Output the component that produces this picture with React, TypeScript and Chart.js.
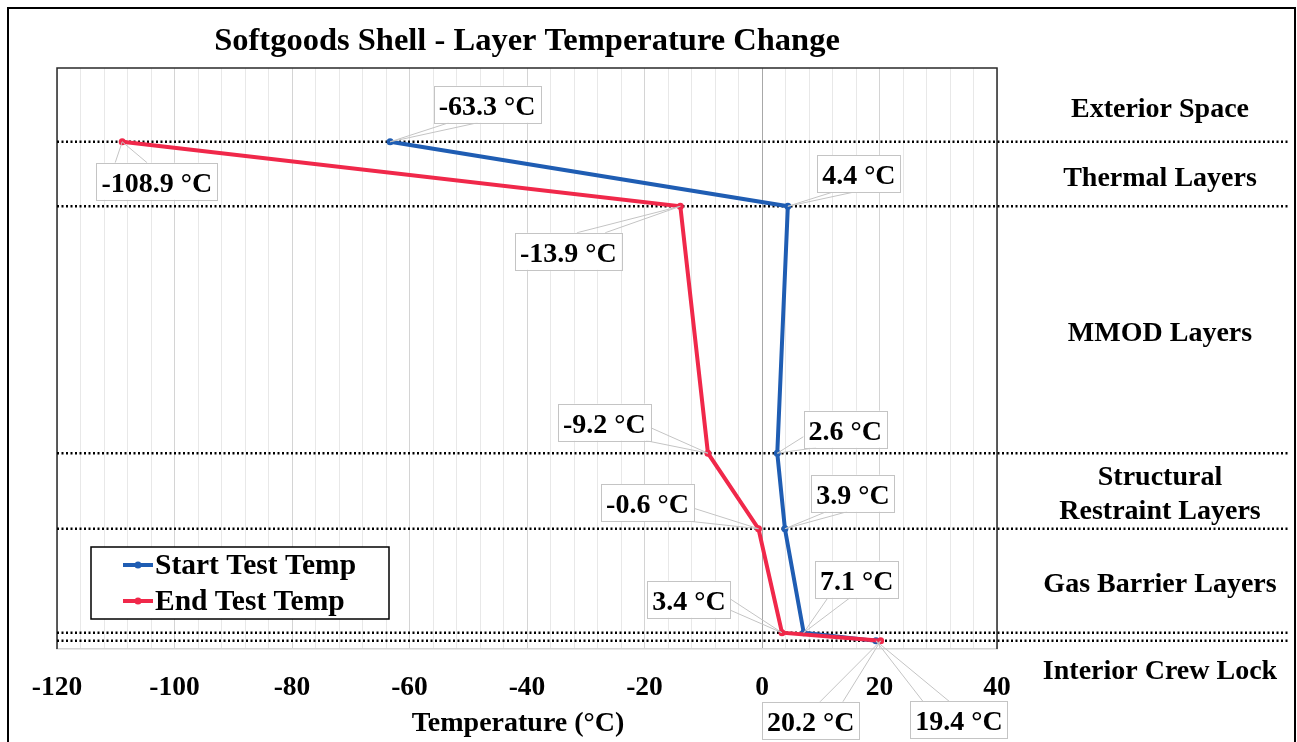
import React, { useEffect, useRef } from "react";
import { Chart, registerables } from "chart.js";

Chart.register(...registerables);

const TITLE = "Softgoods Shell - Layer Temperature Change";
const X_TITLE = "Temperature (°C)";
const seriesNames = ["Start Test Temp", "End Test Temp"];
const seriesColors = ["#1F5DB3", "#F0284A"];
// layer boundary depth (0 = top of plot, 100 = bottom)
const boundaryDepth = [12.7, 23.8, 66.3, 79.3, 97.2, 98.6];
const startTemp = [-63.3, 4.4, 2.6, 3.9, 7.1, 19.4];
const endTemp = [-108.9, -13.9, -9.2, -0.6, 3.4, 20.2];
const xTicks = [-120, -100, -80, -60, -40, -20, 0, 20, 40];
const layerNames = [
  ["Exterior Space"],
  ["Thermal Layers"],
  ["MMOD Layers"],
  ["Structural", "Restraint Layers"],
  ["Gas Barrier Layers"],
  ["Interior Crew Lock"],
];
const layerCenter = [6.8, 18.7, 45.4, 73.0, 88.6, 103.5];

// callout layout: box centre offset from point, pointer anchors in half-size units
type Callout = { dx: number; dy: number; a: [number, number]; b: [number, number] };
const startCallouts: Callout[] = [
  { dx: 97, dy: -37.5, a: [-0.72, 1], b: [-0.18, 1] },
  { dx: 71, dy: -32.5, a: [-0.64, 1], b: [-0.14, 1] },
  { dx: 68, dy: -24, a: [-1, 0.4], b: [-0.7, 1] },
  { dx: 68, dy: -35.5, a: [-0.64, 1], b: [-0.14, 1] },
  { dx: 53, dy: -53.5, a: [-0.69, 1], b: [-0.16, 1] },
  { dx: 83, dy: 79, a: [-0.74, -1], b: [-0.2, -1] },
];
const endCallouts: Callout[] = [
  { dx: 34.6, dy: 39.5, a: [-0.69, -1], b: [-0.16, -1] },
  { dx: -112, dy: 45, a: [0.16, -1], b: [0.69, -1] },
  { dx: -103.6, dy: -31, a: [1, 0.3], b: [0.9, 1] },
  { dx: -111, dy: -26, a: [1, 0.3], b: [0.9, 1] },
  { dx: -93, dy: -33.5, a: [1, 0.0], b: [1, 0.6] },
  { dx: -70, dy: 79.5, a: [0.19, -1], b: [0.66, -1] },
];

const FONT = "'Liberation Serif', 'Times New Roman', serif";

function drawCallout(ctx: CanvasRenderingContext2D, px: number, py: number, text: string, c: Callout) {
  ctx.save();
  ctx.font = `bold 28px ${FONT}`;
  const w = ctx.measureText(text).width + 10;
  const h = 37;
  const cx = px + c.dx;
  const cy = py + c.dy;
  ctx.strokeStyle = "#C4C4C4";
  ctx.lineWidth = 1;
  ctx.beginPath();
  ctx.moveTo(cx + (c.a[0] * w) / 2, cy + (c.a[1] * h) / 2);
  ctx.lineTo(px, py);
  ctx.lineTo(cx + (c.b[0] * w) / 2, cy + (c.b[1] * h) / 2);
  ctx.stroke();
  ctx.fillStyle = "#FFFFFF";
  ctx.fillRect(cx - w / 2, cy - h / 2, w, h);
  ctx.strokeRect(Math.round(cx - w / 2) + 0.5, Math.round(cy - h / 2) + 0.5, Math.round(w), h);
  ctx.fillStyle = "#000";
  ctx.textAlign = "center";
  ctx.textBaseline = "alphabetic";
  ctx.fillText(text, cx, cy + 10.5);
  ctx.restore();
}

const overlayPlugin = {
  id: "overlay",
  beforeDatasetsDraw(chart: any) {
    const { ctx, chartArea, scales } = chart;
    const y = scales.y;
    ctx.save();
    // plot border (top, left, right)
    ctx.strokeStyle = "#2A2A2A";
    ctx.lineWidth = 1.5;
    ctx.beginPath();
    ctx.moveTo(chartArea.left, chartArea.bottom);
    ctx.lineTo(chartArea.left, chartArea.top);
    ctx.lineTo(chartArea.right, chartArea.top);
    ctx.lineTo(chartArea.right, chartArea.bottom);
    ctx.stroke();
    // dotted layer boundaries
    ctx.strokeStyle = "#000";
    ctx.lineWidth = 2.5;
    ctx.setLineDash([2, 2.5]);
    boundaryDepth.forEach((d) => {
      const py = y.getPixelForValue(d);
      ctx.beginPath();
      ctx.moveTo(chartArea.left, py);
      ctx.lineTo(1288, py);
      ctx.stroke();
    });
    ctx.restore();
  },
  afterDatasetsDraw(chart: any) {
    const { ctx, chartArea, scales } = chart;
    const x = scales.x;
    const y = scales.y;
    ctx.save();
    // outer frame
    ctx.strokeStyle = "#000";
    ctx.lineWidth = 2;
    ctx.beginPath();
    ctx.moveTo(8, 742);
    ctx.lineTo(8, 8);
    ctx.lineTo(1295, 8);
    ctx.lineTo(1295, 742);
    ctx.stroke();

    // title
    ctx.fillStyle = "#000";
    ctx.textAlign = "center";
    ctx.textBaseline = "alphabetic";
    ctx.font = `bold 32.5px ${FONT}`;
    ctx.fillText(TITLE, (chartArea.left + chartArea.right) / 2, 50);
    // axis title
    ctx.font = `bold 28px ${FONT}`;
    ctx.fillText(X_TITLE, 518, 731);
    // layer names
    layerNames.forEach((lines, i) => {
      const cy = y.getPixelForValue(layerCenter[i]);
      const n = lines.length;
      lines.forEach((t, j) => {
        const ly = cy + (j - (n - 1) / 2) * 34 + 9.5;
        ctx.fillText(t, 1160, ly);
      });
    });
    ctx.restore();

    // callouts
    startTemp.forEach((v, i) => {
      drawCallout(ctx, x.getPixelForValue(v), y.getPixelForValue(boundaryDepth[i]), `${v.toFixed(1)} °C`, startCallouts[i]);
    });
    endTemp.forEach((v, i) => {
      drawCallout(ctx, x.getPixelForValue(v), y.getPixelForValue(boundaryDepth[i]), `${v.toFixed(1)} °C`, endCallouts[i]);
    });

    // legend
    ctx.save();
    const lx = 91, ly = 547, lw = 298, lh = 72;
    ctx.fillStyle = "#FFFFFF";
    ctx.fillRect(lx, ly, lw, lh);
    ctx.strokeStyle = "#000";
    ctx.lineWidth = 1.5;
    ctx.strokeRect(lx, ly, lw, lh);
    seriesNames.forEach((name, i) => {
      const ry = 565 + i * 36;
      ctx.strokeStyle = seriesColors[i];
      ctx.lineWidth = 4;
      ctx.beginPath();
      ctx.moveTo(123, ry);
      ctx.lineTo(153, ry);
      ctx.stroke();
      ctx.fillStyle = seriesColors[i];
      ctx.beginPath();
      ctx.arc(138, ry, 3.5, 0, Math.PI * 2);
      ctx.fill();
      ctx.fillStyle = "#000";
      ctx.font = `bold 29.5px ${FONT}`;
      ctx.textAlign = "left";
      ctx.textBaseline = "alphabetic";
      ctx.fillText(name, 155, ry + 9);
    });
    ctx.restore();
  },
};

export default function App() {
  const ref = useRef<HTMLCanvasElement | null>(null);
  useEffect(() => {
    if (!ref.current) return;
    const chart = new Chart(ref.current, {
      type: "line",
      data: {
        datasets: [
          {
            label: seriesNames[0],
            data: startTemp.map((v, i) => ({ x: v, y: boundaryDepth[i] })),
            borderColor: seriesColors[0],
            backgroundColor: seriesColors[0],
            borderWidth: 4,
            pointRadius: 3.5,
            pointHoverRadius: 3.5,
            pointBorderWidth: 0,
            tension: 0,
            order: 1,
          },
          {
            label: seriesNames[1],
            data: endTemp.map((v, i) => ({ x: v, y: boundaryDepth[i] })),
            borderColor: seriesColors[1],
            backgroundColor: seriesColors[1],
            borderWidth: 4,
            pointRadius: 3.5,
            pointHoverRadius: 3.5,
            pointBorderWidth: 0,
            tension: 0,
            order: 0,
          },
        ],
      },
      options: {
        responsive: false,
        animation: false,
        devicePixelRatio: 1,
        layout: { padding: { left: 57, right: 300, top: 68, bottom: 0 } },
        plugins: {
          legend: { display: false },
          title: { display: false },
          tooltip: { enabled: false },
        },
        scales: {
          x: {
            type: "linear",
            min: -120,
            max: 40,
            afterFit: (s: any) => {
              s.height = 93;
            },
            afterBuildTicks: (s: any) => {
              const t: any[] = [];
              for (let v = -120; v <= 40; v += 4) t.push({ value: v });
              s.ticks = t;
            },
            grid: {
              drawTicks: false,
              lineWidth: 1,
              color: (c: any) => {
                const v = c.tick ? c.tick.value : 1;
                if (v === 0) return "#A8A8A8";
                if (v % 20 === 0) return "#D4D4D4";
                return "#E8E8E8";
              },
            },
            border: { display: true, color: "#D4D4D4", width: 1.5 },
            ticks: {
              autoSkip: false,
              maxRotation: 0,
              padding: 22,
              color: "#000",
              font: { family: FONT, weight: "bold", size: 27.5 },
              callback: (v: any) => (xTicks.includes(Number(v)) ? String(v) : ""),
            },
          },
          y: {
            type: "linear",
            min: 0,
            max: 100,
            reverse: true,
            display: false,
          },
        },
      },
      plugins: [overlayPlugin],
    } as any);
    return () => chart.destroy();
  }, []);
  return (
    <div style={{ position: "fixed", left: 0, top: 0, width: 1297, height: 742, background: "#fff" }}>
      <canvas ref={ref} width={1297} height={742} style={{ width: 1297, height: 742, display: "block" }} />
    </div>
  );
}
